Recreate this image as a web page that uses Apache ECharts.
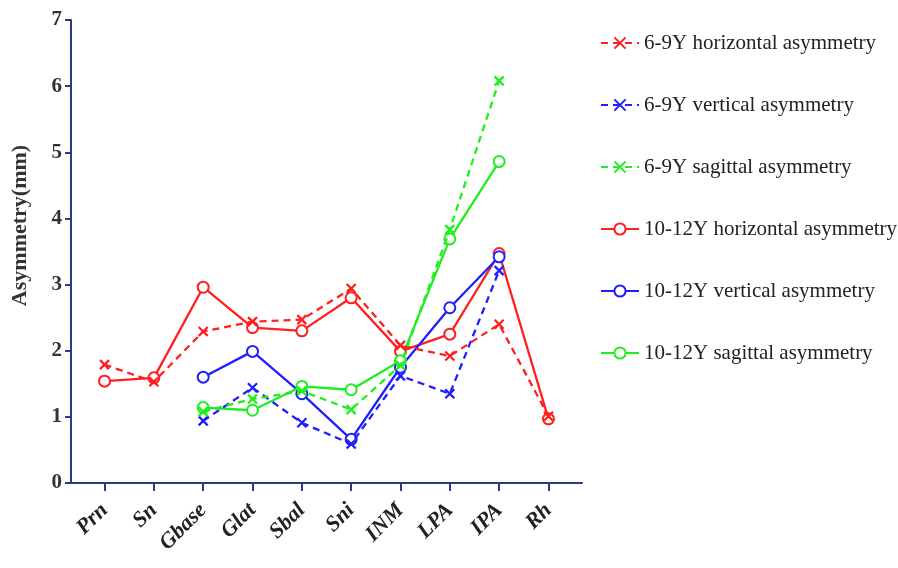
<!DOCTYPE html>
<html><head><meta charset="utf-8">
<script src="https://cdn.jsdelivr.net/npm/echarts@6/dist/echarts.min.js"></script>
<style>html,body{margin:0;padding:0;background:#fff}#c{width:898px;height:568px}</style>
</head><body><div id="c"></div>
<script>
const categories = ['Prn','Sn','Gbase','Glat','Sbal','Sni','INM','LPA','IPA','Rh'];
const yTicks = [0,1,2,3,4,5,6,7];
const h69 = [1.79,1.53,2.29,2.44,2.47,2.94,2.08,1.92,2.40,1.01];
const v69 = [null,null,0.94,1.44,0.91,0.59,1.62,1.35,3.21,null];
const s69 = [null,null,1.08,1.27,1.39,1.11,1.78,3.83,6.08,null];
const h1012 = [1.54,1.59,2.96,2.35,2.30,2.80,1.99,2.25,3.47,0.97];
const v1012 = [null,null,1.60,1.99,1.35,0.66,1.75,2.65,3.42,null];
const s1012 = [null,null,1.14,1.10,1.46,1.41,1.85,3.69,4.86,null];
const names = ['6-9Y horizontal asymmetry','6-9Y vertical asymmetry','6-9Y sagittal asymmetry',
  '10-12Y horizontal asymmetry','10-12Y vertical asymmetry','10-12Y sagittal asymmetry'];

const RED='#ff1f1f', BLUE='#1f1fff', GREEN='#1fee1f', AX='#2e3a80';
const SERIF='"Liberation Serif","Times New Roman",serif';
const CROSS='path://M0,0L10,10M10,0L0,10';
function pts(arr){return arr.map((v,i)=> v==null ? [i,null] : [i,v]);}
function ser(name, arr, color, dashed){
  return {
    name, type:'line', data: pts(arr), connectNulls:false,
    symbol: dashed ? CROSS : 'emptyCircle',
    symbolSize: dashed ? 9 : 11,
    showAllSymbol:true,
    lineStyle:{color, width:2.3, type: dashed ? [7,5] : 'solid'},
    itemStyle:{color: color, borderColor: color, borderWidth: 2.3},
    emphasis:{disabled:true}, animation:false, z: dashed?3:2
  };
}
const chart = echarts.init(document.getElementById('c'));
chart.setOption({
  backgroundColor:'#fff',
  animation:false,
  grid:{left:71, right:316, top:20, bottom:85, containLabel:false},
  legend:{
    orient:'vertical', left:600, top:32, padding:0, itemGap:40, itemWidth:38, itemHeight:14,
    textStyle:{fontFamily:SERIF, fontSize:21, lineHeight:22, color:'#222'},
    data:names
  },
  xAxis:{
    type:'value', min:-0.68, max:9.68,
    splitLine:{show:false},
    axisLine:{show:true, onZero:false, lineStyle:{color:AX, width:2}},
    axisTick:{show:true, length:8, inside:false, lineStyle:{color:AX, width:2}, customValues:[0,1,2,3,4,5,6,7,8,9]},
    axisLabel:{customValues:[0,1,2,3,4,5,6,7,8,9], rotate:45, margin:24,
      formatter:v=>categories[Math.round(v)]||'',
      fontFamily:SERIF, fontWeight:'bold', fontStyle:'italic',
      fontSize:22, color:'#222'}
  },
  yAxis:{
    type:'value', min:0, max:7, interval:1,
    name:'Asymmetry(mm)', nameLocation:'middle', nameGap:40,
    nameTextStyle:{fontFamily:SERIF, fontWeight:'bold', fontSize:22, color:'#333', padding:[0,0,0,52]},
    splitLine:{show:false},
    axisLine:{show:true, onZero:false, lineStyle:{color:AX, width:2}},
    axisTick:{show:true, length:6, lineStyle:{color:AX, width:2}},
    axisLabel:{formatter:v=>yTicks.includes(v)?String(v):'', margin:9,
      fontFamily:SERIF, fontWeight:'bold', fontSize:21, color:'#333'}
  },
  series:[
    ser(names[0], h69, RED, true),
    ser(names[1], v69, BLUE, true),
    ser(names[2], s69, GREEN, true),
    ser(names[3], h1012, RED, false),
    ser(names[4], v1012, BLUE, false),
    ser(names[5], s1012, GREEN, false)
  ]
});
</script></body></html>
